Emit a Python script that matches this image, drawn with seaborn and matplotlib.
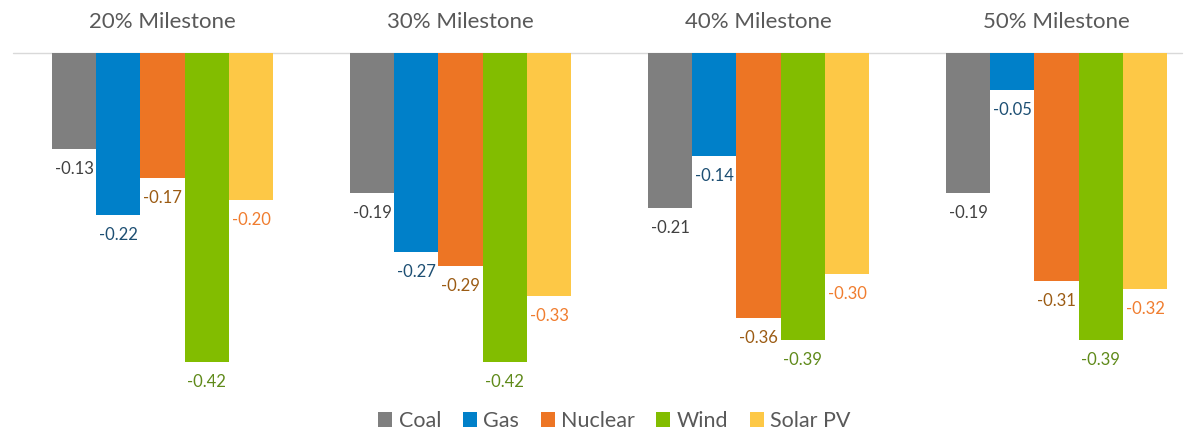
import pandas as pd
import numpy as np
import seaborn as sns
import matplotlib.pyplot as plt
from matplotlib.patches import Patch

sns.set_style("white")
plt.rcParams['font.family'] = ['Lato', 'DejaVu Sans']

milestones = ['20% Milestone', '30% Milestone', '40% Milestone', '50% Milestone']
sources = ['Coal', 'Gas', 'Nuclear', 'Wind', 'Solar PV']
coal = [-0.13, -0.19, -0.21, -0.19]
gas = [-0.22, -0.27, -0.14, -0.05]
nuclear = [-0.17, -0.29, -0.36, -0.31]
wind = [-0.42, -0.42, -0.39, -0.39]
solar = [-0.20, -0.33, -0.30, -0.32]

bar_colors = ['#7F7F7F', '#0080C9', '#ED7524', '#82BD00', '#FDC846']
label_colors = ['#404040', '#1D4F73', '#9B5B13', '#5F8A1A', '#F07D2F']

rows = []
for src, vals in zip(sources, [coal, gas, nuclear, wind, solar]):
    for m, v in zip(milestones, vals):
        rows.append({'milestone': m, 'source': src, 'value': v})
df = pd.DataFrame(rows)

fig = plt.figure(figsize=(11.91, 4.30), dpi=100)
ax = fig.add_axes([0, 0, 1, 1])

sns.barplot(data=df, x='milestone', y='value', hue='source', order=milestones,
            hue_order=sources, palette=bar_colors, width=0.742, linewidth=0,
            saturation=1, errorbar=None, legend=False, ax=ax)

# pixel mapping: first group centre at 162.5 px, groups 298 px apart, zero at 53 px, 736 px per unit
ax.set_xlim(-162.5 / 298, (1191 - 162.5) / 298)
ax.set_ylim(-(430 - 53) / 736, 53 / 736)
ax.axis('off')

ax.plot([(13 - 162.5) / 298, (1182 - 162.5) / 298], [0, 0], color='#D9D9D9', lw=1, zorder=0)

for cont, lc in zip(ax.containers, label_colors):
    for bar in cont:
        v = bar.get_height()
        ax.text(bar.get_x() + bar.get_width() / 2, v - 20 / 736, f'{v:.2f}',
                ha='center', va='center', fontsize=12, color=lc)

for i, m in enumerate(milestones):
    ax.text(i, (53 - 22) / 736, m, ha='center', va='center', fontsize=16, color='#595959')

handles = [Patch(facecolor=c, edgecolor='none', label=s) for s, c in zip(sources, bar_colors)]
fig.legend(handles=handles, loc='center', bbox_to_anchor=(0.516, 1 - 421 / 430), ncol=5,
           frameon=False, fontsize=15.5, labelcolor='#595959', handlelength=0.65,
           handleheight=0.65, handletextpad=0.3, columnspacing=1.0)

plt.savefig('out.png', dpi=100)
plt.close()
